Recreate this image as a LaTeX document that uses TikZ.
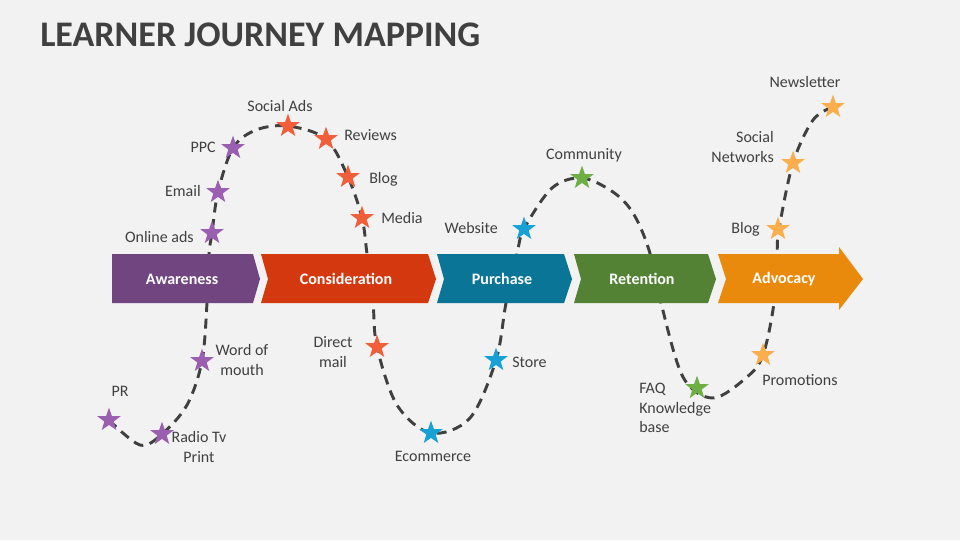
\documentclass[tikz,border=0pt]{standalone}
\usepackage{fontspec}
\setmainfont{Carlito}
\usetikzlibrary{shapes.geometric}
\definecolor{bg}{HTML}{F2F2F2}
\definecolor{txt}{HTML}{404040}
\definecolor{cAw}{HTML}{714680}
\definecolor{cCo}{HTML}{D4380F}
\definecolor{cPu}{HTML}{0A7597}
\definecolor{cRe}{HTML}{548235}
\definecolor{cAd}{HTML}{EA8A0C}
\definecolor{sAw}{HTML}{9A5FAE}
\definecolor{sCo}{HTML}{F05E3A}
\definecolor{sPu}{HTML}{18A1D4}
\definecolor{sRe}{HTML}{6DAE45}
\definecolor{sAd}{HTML}{FAAE4C}
\tikzset{
  lbl/.style={font=\fontsize{12}{14.4}\selectfont, text=txt, inner sep=0pt, align=center},
  stagetxt/.style={font=\bfseries\fontsize{12}{14.4}\selectfont, text=white, inner sep=0pt},
  starmark/.style={star, star points=5, star point ratio=2.5, minimum size=18.5pt, inner sep=0pt, fill=#1, draw=none},
  journey/.style={draw=txt, line width=2.2pt, dash pattern=on 7.5pt off 5pt}
}
\begin{document}
\begin{tikzpicture}[x=0.75pt,y=-0.75pt]
\fill[bg] (0,0) rectangle (960,540);
\useasboundingbox (0,0) rectangle (960,540);

\node[anchor=base west, font=\bfseries\fontsize{27}{32}\selectfont, text=txt, inner sep=0pt] (title) at (40,46) {LEARNER JOURNEY MAPPING};

% journey curve
\draw[journey] plot[smooth, tension=0.55] coordinates {
 (109,420) (140,445) (162,434) (187,405) (202,361) (207,303) (209,254) (212,233) (218,192) (233,148)
 (256,130) (288,126) (326,139) (348,177) (362,218) (367,254) (373,303) (377,347) (397,405) (431,433)
 (470,418) (496,360) (506,303) (517,254) (524,229) (552,188) (582,178) (613,192) (633,213) (649,250)
 (661,303) (683,377) (713,398) (747,377) (763,355) (774,303) (777,254) (779,229) (793,163) (813,120) (833,107)};

% stage band
\fill[cAw] (112,254) -- (253,254) -- (260,279) -- (253,303) -- (112,303) -- cycle;
\fill[cCo] (261,254) -- (428,254) -- (436,279) -- (428,303) -- (261,303) -- (268,279) -- cycle;
\fill[cPu] (437,254) -- (564,254) -- (572,279) -- (564,303) -- (437,303) -- (444,279) -- cycle;
\fill[cRe] (574,254) -- (708,254) -- (716,279) -- (708,303) -- (574,303) -- (581,279) -- cycle;
\fill[cAd] (718,254) -- (839,254) -- (839,247) -- (863,279) -- (839,310) -- (839,303) -- (718,303) -- (726,279) -- cycle;
\node[stagetxt] (aw) at (182,279) {Awareness};
\node[stagetxt] (co) at (346,279) {Consideration};
\node[stagetxt] (pu) at (502,279) {Purchase};
\node[stagetxt] (re) at (642,279) {Retention};
\node[stagetxt] (ad) at (784,279) {Advocacy};

% stars
\node[starmark=sAw] (s1) at (109,420) {};
\node[starmark=sAw] (s2) at (162,434) {};
\node[starmark=sAw] (s3) at (202,361) {};
\node[starmark=sAw] (s4) at (212,233) {};
\node[starmark=sAw] (s5) at (218,192) {};
\node[starmark=sAw] (s6) at (233,148) {};
\node[starmark=sCo] (s7) at (288,126) {};
\node[starmark=sCo] (s8) at (326,139) {};
\node[starmark=sCo] (s9) at (348,177) {};
\node[starmark=sCo] (s10) at (362,218) {};
\node[starmark=sCo] (s11) at (377,347) {};
\node[starmark=sPu] (s12) at (431,433) {};
\node[starmark=sPu] (s13) at (496,360) {};
\node[starmark=sPu] (s14) at (524,229) {};
\node[starmark=sRe] (s15) at (582,178) {};
\node[starmark=sRe] (s16) at (697,388) {};
\node[starmark=sAd] (s17) at (763,355) {};
\node[starmark=sAd] (s18) at (778,229) {};
\node[starmark=sAd] (s19) at (793,163) {};
\node[starmark=sAd] (s20) at (833,107) {};

% labels
\node[lbl] (l1) at (120,391) {PR};
\node[lbl] (l2) at (199,447) {Radio Tv\\Print};
\node[lbl] (l3) at (242,360) {Word of\\mouth};
\node[lbl, anchor=east] (l4) at (194,237) {Online ads};
\node[lbl, anchor=east] (l5) at (201,191) {Email};
\node[lbl, anchor=east] (l6) at (216,147) {PPC};
\node[lbl] (l7) at (280,106) {Social Ads};
\node[lbl, anchor=west] (l8) at (344,135) {Reviews};
\node[lbl, anchor=west] (l9) at (369,179) {Blog};
\node[lbl, anchor=west] (l10) at (381,218) {Media};
\node[lbl] (l11) at (333,352) {Direct\\mail};
\node[lbl] (l12) at (433,456) {Ecommerce};
\node[lbl, anchor=west] (l13) at (512,362) {Store};
\node[lbl, anchor=east] (l14) at (498,228) {Website};
\node[lbl] (l15) at (584,155) {Community};
\node[lbl, anchor=west, align=left] (l16) at (639,408) {FAQ\\Knowledge\\base};
\node[lbl, anchor=west] (l17) at (762,380) {Promotions};
\node[lbl, anchor=east] (l18) at (760,229) {Blog};
\node[lbl, anchor=east, align=right] (l19) at (774,147) {Social\\Networks};
\node[lbl] (l20) at (805,82) {Newsletter};
\end{tikzpicture}
\end{document}
